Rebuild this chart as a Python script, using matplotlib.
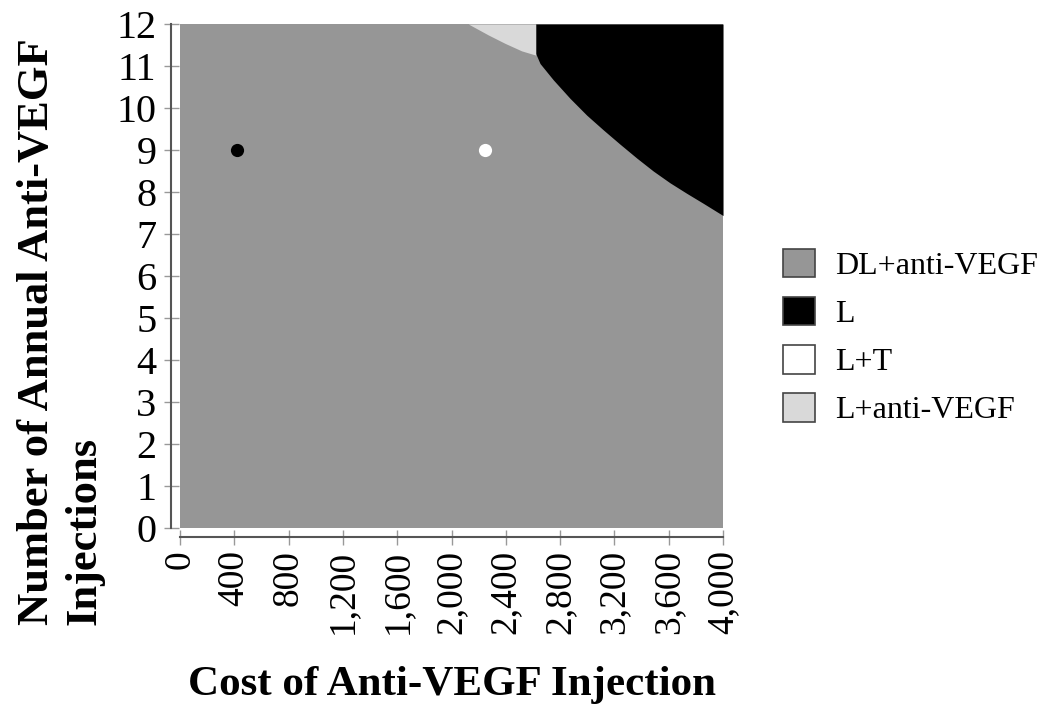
import matplotlib
matplotlib.use("Agg")
import matplotlib.pyplot as plt
from matplotlib.patches import Patch
from matplotlib.ticker import FuncFormatter
import numpy as np

# axis ranges
cost_range = [0, 4000]
inj_range = [0, 12]

# boundary of the "L" region (black)
l_cost = [2620, 2620, 2652, 2750, 2873, 2996, 3118, 3241, 3364, 3486, 3609, 3732, 3855, 4000]
l_inj = [12.0, 11.30, 11.06, 10.67, 10.23, 9.83, 9.48, 9.14, 8.81, 8.50, 8.22, 7.97, 7.73, 7.44]

# boundary of the "L+anti-VEGF" region (light gray)
lav_cost = [2124, 2271, 2394, 2517, 2620]
lav_inj = [12.0, 11.74, 11.54, 11.36, 11.26]

# marked points
pt_cost = [420, 2250]
pt_inj = [9, 9]
pt_colors = ["black", "white"]

labels = ["DL+anti-VEGF", "L", "L+T", "L+anti-VEGF"]
colors = ["#969696", "#000000", "#ffffff", "#d9d9d9"]

plt.rcParams["font.family"] = "Liberation Serif"

fig = plt.figure(figsize=(10.5, 7.17), dpi=100)
ax = fig.add_axes([0.1714, 0.2636, 0.5172, 0.7029])

ax.fill_between(cost_range, inj_range[0], inj_range[1], color=colors[0], lw=0)
ax.fill_between(l_cost, l_inj, inj_range[1], color=colors[1], lw=0)
ax.fill_between(lav_cost, lav_inj, inj_range[1], color=colors[3], lw=0)

for c, v, col in zip(pt_cost, pt_inj, pt_colors):
    ax.plot(c, v, "o", color=col, markersize=9.5, markeredgewidth=0)

ax.set_xlim(cost_range)
ax.set_ylim(inj_range)
ax.set_xticks(np.arange(0, 4001, 400))
ax.set_yticks(np.arange(0, 13, 1))
ax.xaxis.set_major_formatter(FuncFormatter(lambda x, p: f"{x:,.0f}"))

for s in ["top", "right"]:
    ax.spines[s].set_visible(False)
for s in ["left", "bottom"]:
    ax.spines[s].set_position(("outward", 6.5))
    ax.spines[s].set_color("#555555")
    ax.spines[s].set_linewidth(1.5)

ax.tick_params(axis="both", direction="inout", length=10.8, width=1, color="#999999")
ax.tick_params(axis="x", labelrotation=90, pad=4, labelsize=27)
ax.tick_params(axis="y", pad=5, labelsize=29)

fig.text(0.430, 0.045, "Cost of Anti-VEGF Injection", fontsize=31,
         fontweight="bold", ha="center", va="center")
fig.text(0.058, 0.538, "Number of Annual Anti-VEGF\nInjections", fontsize=32,
         fontweight="bold", ha="center", va="center", rotation=90,
         multialignment="left", linespacing=1.25)

handles = [Patch(facecolor=c, edgecolor="#444444", linewidth=1.2) for c in colors]
fig.legend(handles, labels, loc="center left", bbox_to_anchor=(0.7457, 0.530),
           frameon=False, fontsize=23, handlelength=1.0, handleheight=1.0,
           handletextpad=0.62, labelspacing=0.5, borderpad=0, borderaxespad=0)

fig.savefig("out.png", dpi=100)
